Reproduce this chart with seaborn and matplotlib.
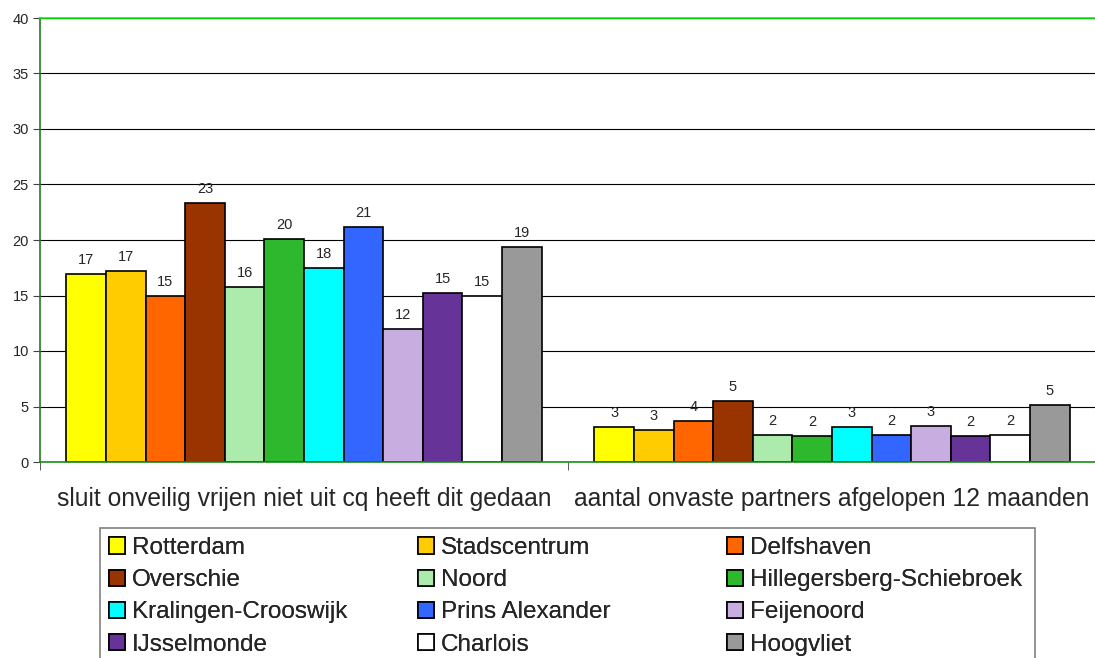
import pandas as pd
import seaborn as sns
import matplotlib.pyplot as plt
from matplotlib.patches import Rectangle

# data
categories = ['sluit onveilig vrijen niet uit cq heeft dit gedaan',
              'aantal onvaste partners afgelopen 12 maanden']
wijken = ['Rotterdam', 'Stadscentrum', 'Delfshaven', 'Overschie', 'Noord',
          'Hillegersberg-Schiebroek', 'Kralingen-Crooswijk', 'Prins Alexander',
          'Feijenoord', 'IJsselmonde', 'Charlois', 'Hoogvliet']
onveilig = [16.9, 17.2, 14.95, 23.3, 15.8, 20.1, 17.52, 21.2, 12.0, 15.25, 14.95, 19.4]
partners = [3.13, 2.86, 3.7, 5.48, 2.44, 2.38, 3.13, 2.44, 3.25, 2.38, 2.44, 5.15]
kleuren = ['#FFFF00', '#FFCC00', '#FF6600', '#993300', '#ADEBAD', '#2EB82E',
           '#00FFFF', '#3366FF', '#C8AEE0', '#663399', '#FFFFFF', '#999999']

rows = []
for w, a, b in zip(wijken, onveilig, partners):
    rows.append({'categorie': categories[0], 'wijk': w, 'waarde': a})
    rows.append({'categorie': categories[1], 'wijk': w, 'waarde': b})
df = pd.DataFrame(rows)

sns.set_style('white')
plt.rcParams['font.family'] = ['Liberation Sans', 'DejaVu Sans']

fig = plt.figure(figsize=(10.95, 6.58), dpi=100)
ax = fig.add_axes([40 / 1095, 196 / 658, 1056 / 1095, 444 / 658])

sns.barplot(data=df, x='categorie', y='waarde', hue='wijk', order=categories,
            hue_order=wijken, palette=kleuren, width=0.9, saturation=1,
            edgecolor='black', linewidth=1.2, ax=ax, legend=True)

for c in ax.containers:
    ax.bar_label(c, fmt='%.0f', padding=5, fontsize=10.5)

handles, labels = ax.get_legend_handles_labels()
ax.get_legend().remove()

# assen
ax.set_ylim(0, 40)
ax.set_xlim(-0.5, 1.5)
ax.set_yticks(range(0, 41, 5))
ax.yaxis.grid(True, color='black', linewidth=0.8)
ax.set_axisbelow(True)
ax.set_xlabel('')
ax.set_ylabel('')
ax.tick_params(axis='y', labelsize=10.5, length=5, color='#404040', left=True, pad=3)
ax.tick_params(axis='x', which='major', labelsize=17.7, length=0, pad=18)
ax.set_xticks([-0.5, 0.5, 1.5], minor=True)
ax.tick_params(axis='x', which='minor', length=6, color='#404040', bottom=True)

ax.spines['top'].set_color('#00FF00')
ax.spines['left'].set_color('#1E7B1E')
ax.spines['bottom'].set_color('#1E8C1E')
ax.spines['right'].set_visible(False)
for s in ['top', 'left', 'bottom']:
    ax.spines[s].set_linewidth(1.2)

# legenda in drie kolommen
fig.add_artist(Rectangle((100 / 1095, -0.05), 935 / 1095, 0.05 + 130 / 658,
                         transform=fig.transFigure, fill=False,
                         edgecolor='#808080', linewidth=1.2))
kol_x = [109, 418, 727]
for i, x in enumerate(kol_x):
    idx = [i, i + 3, i + 6, i + 9]
    leg = fig.legend([handles[j] for j in idx], [labels[j] for j in idx],
                     loc='upper left', bbox_to_anchor=(x / 1095, (658 - 537) / 658),
                     frameon=False, fontsize=17.5, borderpad=0, borderaxespad=0,
                     handlelength=0.65, handleheight=0.65, handletextpad=0.3,
                     labelspacing=0.42)
    fig.add_artist(leg)

fig.savefig('out.png', dpi=100)
